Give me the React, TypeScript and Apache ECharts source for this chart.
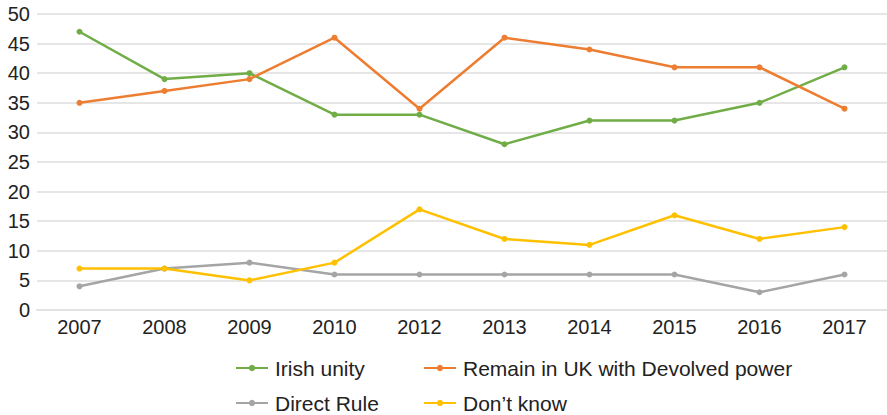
import React, { useEffect, useRef } from "react";
import * as echarts from "echarts";

const years = ["2007", "2008", "2009", "2010", "2012", "2013", "2014", "2015", "2016", "2017"];
const irishUnity = [47, 39, 40, 33, 33, 28, 32, 32, 35, 41];
const remainUK = [35, 37, 39, 46, 34, 46, 44, 41, 41, 34];
const directRule = [4, 7, 8, 6, 6, 6, 6, 6, 3, 6];
const dontKnow = [7, 7, 5, 8, 17, 12, 11, 16, 12, 14];

const seriesNames = ["Irish unity", "Remain in UK with Devolved power", "Direct Rule", "Don\u2019t know"];
const seriesColors = ["#70ad47", "#ed7d31", "#a5a5a5", "#ffc000"];
const seriesData = [irishUnity, remainUK, directRule, dontKnow];

const FONT = "'Liberation Sans', Arial, Helvetica, sans-serif";

export default function App() {
  const ref = useRef<HTMLDivElement>(null);
  useEffect(() => {
    if (!ref.current) return;
    const chart = echarts.init(ref.current, undefined, { renderer: "svg" });
    const legendPos = [
      { left: 235, top: 357 },
      { left: 423, top: 357 },
      { left: 235, top: 392 },
      { left: 423, top: 392 },
    ];
    chart.setOption({
      animation: false,
      backgroundColor: "#ffffff",
      grid: { left: 37, right: -4, top: 14, height: 296 },
      xAxis: {
        type: "category",
        data: years,
        boundaryGap: true,
        axisLine: { show: true, lineStyle: { color: "#e2e2e2", width: 2 } },
        axisTick: { show: false },
        axisLabel: { color: "#222", fontSize: 20, fontFamily: FONT, margin: 7 },
        splitLine: { show: false },
      },
      yAxis: {
        type: "value",
        min: 0,
        max: 50,
        interval: 5,
        axisLine: { show: false },
        axisTick: { show: false },
        axisLabel: { color: "#222", fontSize: 20, fontFamily: FONT, margin: 7 },
        splitLine: { show: true, lineStyle: { color: "#e6e6e6", width: 2 } },
      },
      legend: seriesNames.map((name, i) => ({
        data: [name],
        left: legendPos[i].left,
        top: legendPos[i].top,
        padding: 0,
        itemWidth: 32,
        itemHeight: 8,
        textStyle: {
          color: "#222",
          fontSize: 21,
          fontFamily: FONT,
          lineHeight: 22,
          padding: [0, 0, 0, 2],
        },
      })),
      series: seriesNames.map((name, i) => ({
        name,
        type: "line",
        data: seriesData[i],
        color: seriesColors[i],
        symbol: "circle",
        symbolSize: 6,
        lineStyle: { width: 2.5, color: seriesColors[i] },
        itemStyle: { color: seriesColors[i] },
      })),
    });
    return () => chart.dispose();
  }, []);
  return (
    <div
      ref={ref}
      style={{ position: "fixed", left: 0, top: 0, width: 887, height: 415 }}
    />
  );
}
